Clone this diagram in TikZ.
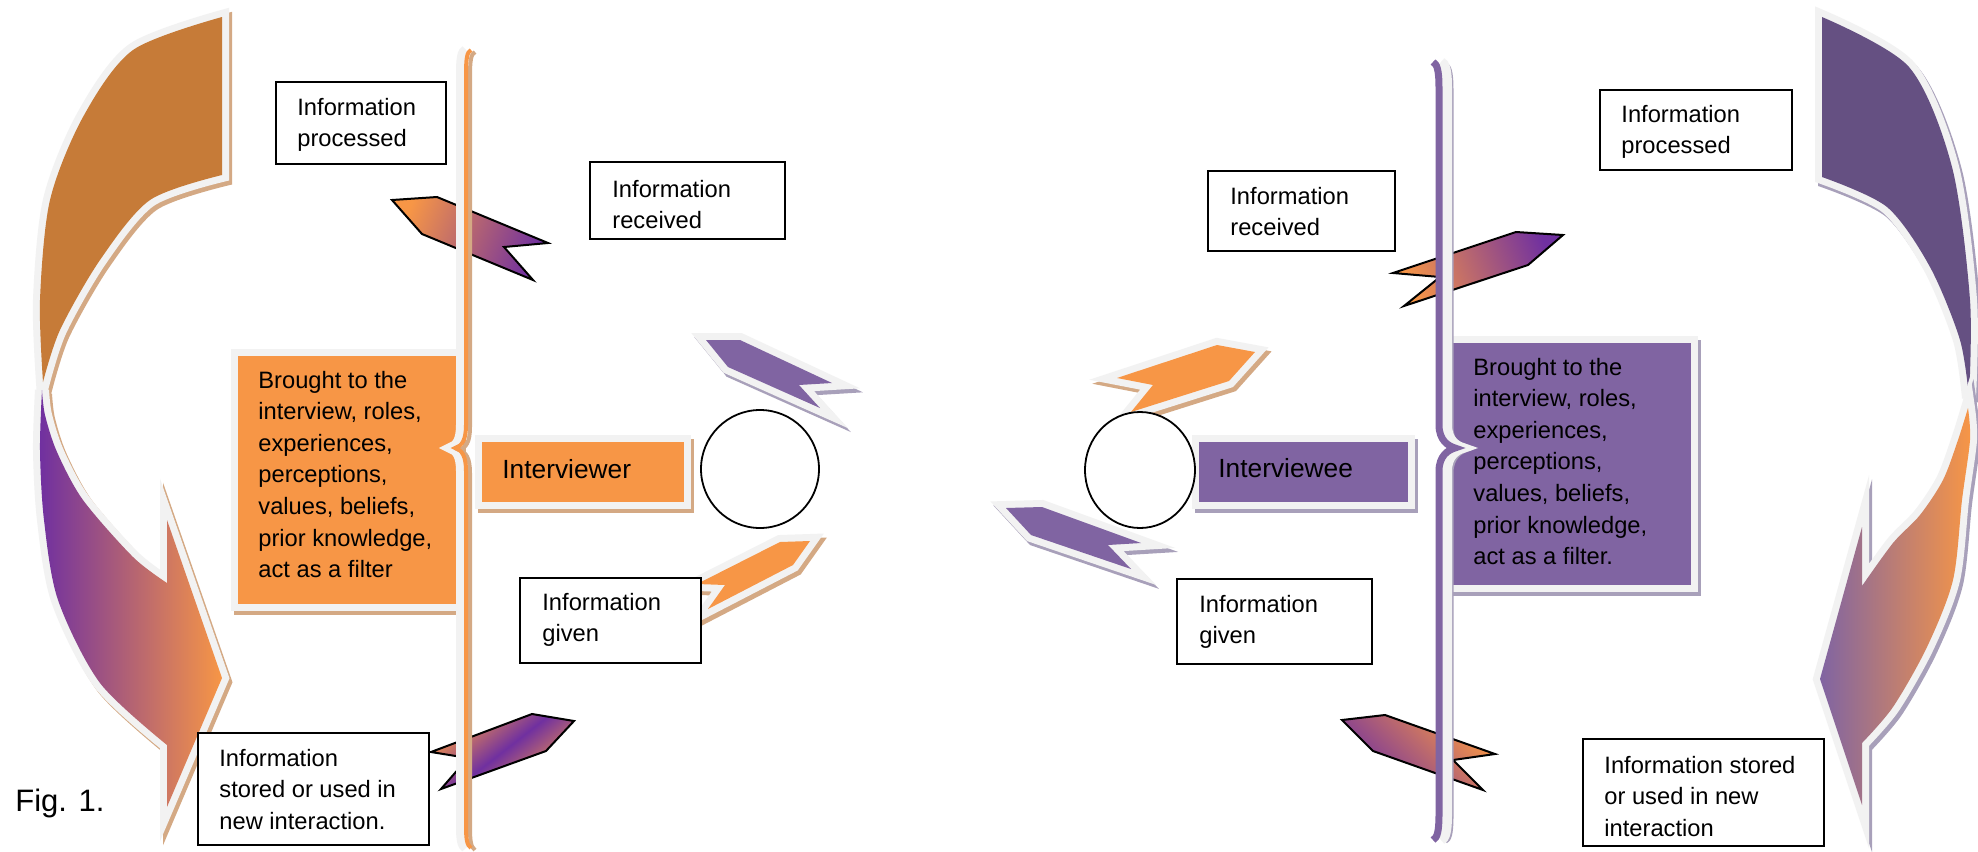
\documentclass[tikz,border=0pt]{standalone}
\usepackage{fontspec}
\setmainfont{Liberation Sans}
\usetikzlibrary{shapes.geometric}
\definecolor{orng}{HTML}{F79646}
\definecolor{purp}{HTML}{8064A2}
\definecolor{vio}{HTML}{7030A0}
\definecolor{brwn}{HTML}{C67B38}
\definecolor{dpurp}{HTML}{655082}
\definecolor{glowc}{HTML}{F2F2F2}
\definecolor{tanc}{HTML}{D4A984}
\definecolor{lavc}{HTML}{A8A0BA}
% shadow colour, fill options, path
\newcommand\framedpath[3]{%
  \path[fill=#1,draw=#1,line width=7pt,line join=miter,shift={(3,4)}] #3;
  \path[fill=glowc,draw=glowc,line width=7pt,line join=miter] #3;
  \path[#2] #3;}
\newcommand\leftbrace[1]{\draw[#1] (471,50) .. controls (467,52) and (466,58) .. (466,75) -- (466,425) .. controls (466,440) and (462,446) .. (455,448) .. controls (462,450) and (466,456) .. (466,471) -- (466,825) .. controls (466,840) and (467,845) .. (471,848);}
\newcommand\rightbrace[1]{\draw[#1] (1433,62) .. controls (1437,64) and (1439,70) .. (1439,88) -- (1439,425) .. controls (1439,440) and (1448,446) .. (1455,448) .. controls (1448,450) and (1439,456) .. (1439,471) -- (1439,815) .. controls (1439,832) and (1437,838) .. (1433,840);}
\tikzset{
  txt/.style={anchor=base west,inner sep=0pt,font=\fontsize{11.85pt}{15.8pt}\selectfont},
  bigtxt/.style={anchor=base west,inner sep=0pt,font=\fontsize{13.15pt}{16pt}\selectfont},
  tbox/.style={draw=black,fill=white,line width=1pt},
  garrow/.style={draw=black,line width=1pt,line join=miter},
  circ/.style={draw=black,fill=white,line width=0.9pt,inner sep=0pt},
}
\begin{document}
\begin{tikzpicture}[x=0.5pt,y=-0.5pt]
\useasboundingbox (0,0) rectangle (1978,852);
\fill[white] (0,0) rectangle (1978,852);

% ---------- left big curved arrow ----------
\framedpath{tanc}{fill=brwn}{plot[smooth] coordinates {(222,17) (133,50) (83,117) (50,200) (40,300) (43,382)} -- plot[smooth] coordinates {(43,382) (60,330) (100,260) (150,200) (222,175)} -- cycle}
\framedpath{tanc}{left color=vio,right color=orng}{plot[smooth] coordinates {(42,390) (40,450) (44,520) (58,600) (100,683) (167,745)} -- (167,807) -- (222,678) -- (167,520) -- (167,583) -- plot[smooth] coordinates {(167,583) (133,557) (83,500) (57,452) (45,415) (42,390)} -- cycle}

% ---------- right big curved arrow ----------
\framedpath{lavc}{fill=dpurp}{plot[smooth] coordinates {(1822,17) (1909,67) (1952,167) (1970,300) (1969,398)} -- plot[smooth] coordinates {(1969,398) (1960,340) (1930,267) (1887,207) (1822,177)} -- cycle}
\framedpath{lavc}{left color=purp,right color=orng}{plot[smooth] coordinates {(1968,408) (1970,440) (1962,500) (1953,580) (1927,647) (1893,707) (1862,743)} -- (1862,805) -- (1820,679) -- (1862,527) -- (1862,586) -- plot[smooth] coordinates {(1862,586) (1893,543) (1920,515) (1943,480) (1958,440) (1968,408)} -- cycle}

% ---------- "Brought to the" boxes ----------
\framedpath{tanc}{fill=orng}{(238,356) rectangle (456,604)}
\framedpath{lavc}{fill=purp}{(1453,343) rectangle (1691,585)}

% ---------- gradient arrows ----------
\path[garrow,left color=orng,right color=vio,shading angle=68] (392,200) -- (437,197) -- (548,243) -- (504,247) -- (533,280) -- (422,234) -- cycle;
\path[garrow,left color=orng,right color=orng,middle color=vio,shading angle=38] (431,752) -- (532,714) -- (574,721) -- (546,751) -- (441,789) -- (468,758) -- cycle;
\path[garrow,left color=orng,right color=vio,shading angle=111] (1393,273) -- (1516,232) -- (1563,235) -- (1528,265) -- (1404,306) -- (1440,277) -- cycle;
\path[garrow,left color=vio,right color=orng,shading angle=135] (1342,720) -- (1385,715) -- (1495,754) -- (1453,760) -- (1483,790) -- (1373,751) -- cycle;

% ---------- braces ----------
\leftbrace{glowc,line width=5pt,shift={(-5,0)}}
\leftbrace{tanc,line width=2pt,shift={(4,2)}}
\leftbrace{orng,line width=2pt}
\rightbrace{lavc,line width=1.5pt,shift={(13,2)}}
\rightbrace{glowc,line width=5pt,shift={(8,0)}}
\rightbrace{purp,line width=3.5pt}

% ---------- role boxes ----------
\framedpath{tanc}{fill=orng}{(482,442) rectangle (684,502)}
\framedpath{lavc}{fill=purp}{(1199,442) rectangle (1408,502)}

% ---------- solid arrows ----------
\framedpath{lavc}{fill=purp}{(706,340) -- (740,340) -- (832,383) -- (799,385) -- (820,408) -- (728,367) -- cycle}
\framedpath{tanc}{fill=orng}{(780,542) -- (810,541) -- (793,565) -- (708,609) -- (725,585) -- (697,584) -- cycle}
\framedpath{tanc}{fill=orng}{(1117,378) -- (1217,345) -- (1255,352) -- (1229,381) -- (1131,412) -- (1153,385) -- cycle}
\framedpath{lavc}{fill=purp}{(1006,508) -- (1042,507) -- (1141,543) -- (1108,545) -- (1131,569) -- (1031,535) -- cycle}

% ---------- circles ----------
\node[circ,circle,minimum size=59pt] (cL) at (760,469) {};
\node[circ,ellipse,minimum width=55pt,minimum height=58pt] (cR) at (1140,470) {};

% ---------- texts in coloured boxes ----------
\node[txt] (broL) at (258,388) {\parbox[t]{8cm}{\raggedright Brought to the\\interview, roles,\\experiences,\\perceptions,\\values, beliefs,\\prior knowledge,\\act as a filter}};
\node[txt] (broR) at (1473,375) {\parbox[t]{8cm}{\raggedright Brought to the\\interview, roles,\\experiences,\\perceptions,\\values, beliefs,\\prior knowledge,\\act as a filter.}};
\node[bigtxt] (intL) at (502,478) {Interviewer};
\node[bigtxt] (intR) at (1218,477) {Interviewee};

% ---------- white text boxes ----------
\draw[tbox] (276,82) rectangle (446,164);
\node[txt] (procL) at (297,115) {\parbox[t]{8cm}{\raggedright Information\\processed}};
\draw[tbox] (590,162) rectangle (785,239);
\node[txt] (recL) at (612,197) {\parbox[t]{8cm}{\raggedright Information\\received}};
\draw[tbox] (520,578) rectangle (701,663);
\node[txt] (givL) at (542,610) {\parbox[t]{8cm}{\raggedright Information\\given}};
\draw[tbox] (198,733) rectangle (429,845);
\node[txt] (stoL) at (219,766) {\parbox[t]{8cm}{\raggedright Information\\stored or used in\\new interaction.}};

\draw[tbox] (1208,171) rectangle (1395,251);
\node[txt] (recR) at (1230,204) {\parbox[t]{8cm}{\raggedright Information\\received}};
\draw[tbox] (1600,90) rectangle (1792,170);
\node[txt] (procR) at (1621,122) {\parbox[t]{8cm}{\raggedright Information\\processed}};
\draw[tbox] (1177,579) rectangle (1372,664);
\node[txt] (givR) at (1199,612) {\parbox[t]{8cm}{\raggedright Information\\given}};
\draw[tbox] (1583,739) rectangle (1824,846);
\node[txt] (stoR) at (1604,773) {\parbox[t]{8cm}{\raggedright Information stored\\or used in new\\interaction}};

\node[anchor=base west,inner sep=0pt,font=\fontsize{15.5pt}{18pt}\selectfont] (fig) at (15,811) {Fig. 1.};
\end{tikzpicture}
\end{document}
